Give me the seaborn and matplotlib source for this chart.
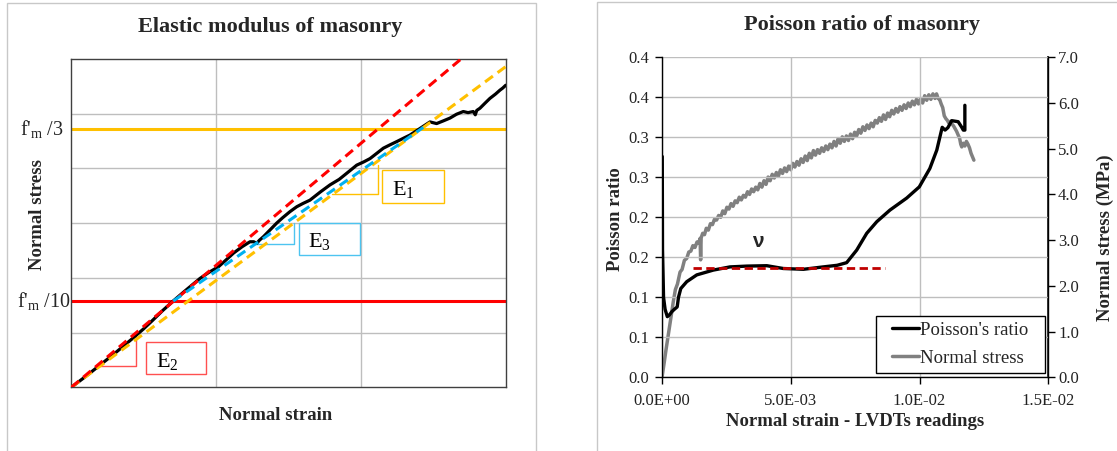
import numpy as np
import pandas as pd
import matplotlib
matplotlib.use("Agg")
import matplotlib.pyplot as plt
from matplotlib.patches import Rectangle
from matplotlib.legend_handler import HandlerLine2D
import seaborn as sns

sns.set_theme(style="white")
plt.rcParams['font.family'] = ['Liberation Serif', 'DejaVu Serif']
plt.rcParams['mathtext.fontset'] = 'custom'
plt.rcParams['mathtext.rm'] = 'Liberation Serif'
plt.rcParams['mathtext.it'] = 'Liberation Serif:italic'
plt.rcParams['mathtext.bf'] = 'Liberation Serif:bold'

# ---------------- Left chart data (relative units) ----------------
curve_strain = [0, 0.10, 0.20, 0.30, 0.429, 0.50, 0.56, 0.63, 0.704, 0.78, 0.889, 0.95, 1.015,
                1.07, 1.119, 1.18, 1.234, 1.26, 1.28, 1.30, 1.326, 1.372, 1.418, 1.46, 1.51,
                1.557, 1.60, 1.648, 1.72, 1.787, 1.85, 1.92, 1.971, 2.02, 2.063, 2.155, 2.20,
                2.247, 2.30, 2.339, 2.408, 2.477, 2.523, 2.57, 2.615, 2.66, 2.707, 2.74, 2.776,
                2.79, 2.80, 2.822, 2.86, 2.891, 2.93, 2.96, 2.98, 3.0]
curve_stress = [0, 0.20, 0.41, 0.62, 0.906, 1.07, 1.22, 1.40, 1.577, 1.75, 1.99, 2.10, 2.20,
                2.33, 2.45, 2.57, 2.66, 2.66, 2.63, 2.69, 2.75, 2.875, 3.0, 3.10, 3.21,
                3.30, 3.36, 3.42, 3.57, 3.70, 3.80, 3.95, 4.06, 4.12, 4.18, 4.37, 4.43,
                4.49, 4.56, 4.61, 4.73, 4.85, 4.82, 4.87, 4.92, 4.99, 5.04, 5.02, 5.04,
                4.98, 5.06, 5.10, 5.20, 5.28, 5.36, 5.43, 5.47, 5.52]

fm3_level = 4.726
fm10_level = 1.577

e1_line_x = [0, 3.0]
e1_line_y = [0, 5.86]
e2_line_x = [0, 2.75]
e2_line_y = [0, 6.13]
e3_line_x = [0.704, 2.431]
e3_line_y = [1.577, 4.75]

e1_tri_x = [1.798, 2.120, 2.120]
e1_tri_y = [3.533, 3.533, 4.063]
e2_tri_x = [0.198, 0.447, 0.447]
e2_tri_y = [0.395, 0.395, 0.987]
e3_tri_x = [1.269, 1.538, 1.538]
e3_tri_y = [2.62, 2.62, 3.008]

e_labels = ["E$_{1}$", "E$_{2}$", "E$_{3}$"]
e_box = {  # x0, y0, x1, y1
    "E1": [2.148, 3.362, 2.576, 3.966],
    "E2": [0.514, 0.237, 0.928, 0.833],
    "E3": [1.570, 2.418, 1.996, 3.003],
}
fm_labels = ["f'$_{\\mathrm{m}}$ /3", "f'$_{\\mathrm{m}}$ /10"]

# ---------------- Right chart data ----------------
nu_strain = [0.00001, 0.00002, 0.00006, 0.00012, 0.000206, 0.00029, 0.00038, 0.00048, 0.00059,
             0.00064, 0.00073, 0.00096, 0.00135, 0.00199, 0.00264, 0.00329, 0.00407, 0.00471,
             0.00549, 0.00626, 0.00680, 0.00717, 0.00756, 0.00795, 0.00834, 0.00885, 0.00950,
             0.00999, 0.01040, 0.01067, 0.01088, 0.01099, 0.01110, 0.01125, 0.01150, 0.01163,
             0.01170, 0.01176, 0.01176]
nu_ratio = [0.276, 0.160, 0.100, 0.085, 0.0758, 0.078, 0.082, 0.085, 0.088,
            0.100, 0.111, 0.1195, 0.128, 0.134, 0.138, 0.139, 0.1395, 0.136,
            0.135, 0.138, 0.140, 0.1433, 0.159, 0.180, 0.1945, 0.209, 0.224,
            0.238, 0.261, 0.284, 0.3125, 0.309, 0.312, 0.3208, 0.3195, 0.313,
            0.309, 0.309, 0.340]

nu_avg_x = [0.00122, 0.00866]
nu_avg_y = [0.137, 0.137]

stress_strain = [0.00000, 0.00008, 0.00015, 0.00021, 0.00028, 0.00035, 0.00044, 0.00052, 0.00060,
    0.00070, 0.00078, 0.00087, 0.00096, 0.00104, 0.00112, 0.00120, 0.00128, 0.00136, 0.00143,
    0.00148, 0.00150, 0.00152, 0.00158, 0.00165, 0.00172, 0.00180, 0.00188, 0.00196, 0.00204,
    0.00212, 0.00220, 0.00228, 0.00236, 0.00244, 0.00252, 0.00260, 0.00268, 0.00276, 0.00284,
    0.00292, 0.00300, 0.00308, 0.00316, 0.00324, 0.00332, 0.00340, 0.00348, 0.00356, 0.00364,
    0.00372, 0.00380, 0.00388, 0.00396, 0.00404, 0.00412, 0.00420, 0.00428, 0.00436, 0.00444,
    0.00452, 0.00460, 0.00468, 0.00476, 0.00484, 0.00492, 0.00500, 0.00508, 0.00516, 0.00524,
    0.00532, 0.00540, 0.00548, 0.00556, 0.00564, 0.00572, 0.00580, 0.00588, 0.00596, 0.00604,
    0.00612, 0.00620, 0.00628, 0.00636, 0.00644, 0.00652, 0.00660, 0.00668, 0.00676, 0.00684,
    0.00692, 0.00700, 0.00708, 0.00716, 0.00724, 0.00732, 0.00740, 0.00748, 0.00756, 0.00764,
    0.00772, 0.00780, 0.00788, 0.00796, 0.00804, 0.00812, 0.00820, 0.00828, 0.00836, 0.00844,
    0.00852, 0.00860, 0.00868, 0.00876, 0.00884, 0.00892, 0.00900, 0.00908, 0.00916, 0.00924,
    0.00932, 0.00940, 0.00948, 0.00956, 0.00964, 0.00972, 0.00980, 0.00988, 0.00996, 0.01004,
    0.01012, 0.01020, 0.01028, 0.01036, 0.01044, 0.01052, 0.01060, 0.01066, 0.01072, 0.01078,
    0.01084, 0.01090, 0.01096, 0.01102, 0.01108, 0.01114, 0.01120, 0.01126, 0.01132, 0.01138,
    0.01144, 0.01150, 0.01156, 0.01160, 0.01164, 0.01170, 0.01176, 0.01182, 0.01188, 0.01194,
    0.01200, 0.01206, 0.01211]
stress_mpa = [0.00, 0.30, 0.58, 0.80, 1.05, 1.32, 1.66, 1.92, 2.04,
    2.30, 2.36, 2.56, 2.60, 2.74, 2.76, 2.88, 2.84, 2.96, 2.94,
    3.04, 2.57, 3.05, 3.15, 3.12, 3.26, 3.22, 3.36, 3.34, 3.46,
    3.44, 3.54, 3.50, 3.64, 3.58, 3.72, 3.68, 3.80, 3.74, 3.86,
    3.82, 3.94, 3.88, 3.98, 3.94, 4.06, 4.00, 4.12, 4.06, 4.16,
    4.10, 4.24, 4.16, 4.30, 4.22, 4.38, 4.30, 4.44, 4.36, 4.48,
    4.40, 4.54, 4.46, 4.58, 4.50, 4.62, 4.54, 4.68, 4.60, 4.72,
    4.64, 4.78, 4.70, 4.84, 4.74, 4.90, 4.80, 4.96, 4.86, 4.98,
    4.90, 5.02, 4.94, 5.06, 4.98, 5.10, 5.02, 5.16, 5.06, 5.22,
    5.12, 5.26, 5.16, 5.28, 5.18, 5.32, 5.22, 5.36, 5.28, 5.42,
    5.34, 5.48, 5.40, 5.52, 5.44, 5.56, 5.48, 5.62, 5.56, 5.68,
    5.60, 5.74, 5.64, 5.78, 5.70, 5.84, 5.76, 5.88, 5.80, 5.92,
    5.84, 5.96, 5.88, 6.00, 5.92, 6.04, 5.96, 6.08, 5.98, 6.10,
    6.00, 6.16, 6.06, 6.18, 6.08, 6.20, 6.10, 6.20, 6.10, 6.08,
    5.98, 5.90, 5.72, 5.66, 5.62, 5.56, 5.60, 5.54, 5.50, 5.44,
    5.38, 5.30, 5.22, 5.10, 5.04, 5.12, 5.06, 5.16, 5.10, 5.02,
    4.90, 4.82, 4.75]

x_ticks = [0.0, 0.005, 0.010, 0.015]
x_tick_labels = ["0.0E+00", "5.0E-03", "1.0E-02", "1.5E-02"]
nu_ticks = [0.0, 0.05, 0.10, 0.15, 0.20, 0.25, 0.30, 0.35, 0.40]
nu_tick_labels = ["0.0", "0.1", "0.1", "0.2", "0.2", "0.3", "0.3", "0.4", "0.4"]
stress_ticks = [0, 1, 2, 3, 4, 5, 6, 7]
stress_tick_labels = ["0.0", "1.0", "2.0", "3.0", "4.0", "5.0", "6.0", "7.0"]
legend_labels = ["Poisson's ratio", "Normal stress"]

# ---------------- Figure ----------------
W, H = 1117, 451
fig = plt.figure(figsize=(W / 100, H / 100), dpi=100)

def fx(px):
    return px / W

def fy(py):
    return 1 - py / H

# panel borders
fig.patches.append(Rectangle((fx(7.3), fy(460)), fx(535.7 - 7.3), (460 - 3.3) / H,
                             transform=fig.transFigure, fill=False, edgecolor="#C8C8C8", lw=1.0))
fig.patches.append(Rectangle((fx(597.3), fy(460)), fx(540), (460 - 1.7) / H,
                             transform=fig.transFigure, fill=False, edgecolor="#C8C8C8", lw=1.0))

RED = "#FF0000"
ORANGE = "#FFC000"
BLUE = "#00B0F0"
GRID = "#BEBEBE"

# ---- Left axes ----
axL = fig.add_axes([fx(71.3), fy(387.3), fx(505.7 - 71.3), (387.3 - 59) / H])
axL.set_xlim(0, 3)
axL.set_ylim(0, 6)
axL.set_xticks([1, 2])
axL.set_yticks([1, 2, 3, 4, 5])
axL.set_xticklabels([])
axL.set_yticklabels([])
axL.tick_params(length=0)
axL.grid(True, color=GRID, lw=1.0)
for s in axL.spines.values():
    s.set_color("#404040")
    s.set_linewidth(1.0)

axL.axhline(fm3_level, color=ORANGE, lw=2.2, zorder=2)
axL.axhline(fm10_level, color=RED, lw=2.2, zorder=2)

tri_lw = 1.0
for tx, ty, c in [(e1_tri_x, e1_tri_y, ORANGE), (e2_tri_x, e2_tri_y, "#FF5050"), (e3_tri_x, e3_tri_y, "#4DC4F0")]:
    sns.lineplot(x=tx, y=ty, ax=axL, color=c, lw=tri_lw, sort=False, estimator=None, zorder=3)

sns.lineplot(x=curve_strain, y=curve_stress, ax=axL, color="black", lw=2.3, sort=False,
             estimator=None, zorder=4)
dash = (3.2, 1.9)
sns.lineplot(x=e1_line_x, y=e1_line_y, ax=axL, color=ORANGE, lw=2.2, zorder=5)
axL.lines[-1].set_dashes(dash)
sns.lineplot(x=e2_line_x, y=e2_line_y, ax=axL, color=RED, lw=2.2, zorder=5)
axL.lines[-1].set_dashes(dash)
sns.lineplot(x=e3_line_x, y=e3_line_y, ax=axL, color=BLUE, lw=2.2, zorder=5)
axL.lines[-1].set_dashes(dash)

for key, lab, c, tx, ty in [("E1", e_labels[0], ORANGE, 2.217, 3.514),
                            ("E2", e_labels[1], "#FF5050", 0.587, 0.376),
                            ("E3", e_labels[2], "#4DC4F0", 1.637, 2.558)]:
    x0, y0, x1, y1 = e_box[key]
    axL.add_patch(Rectangle((x0, y0), x1 - x0, y1 - y0, fill=False, edgecolor=c, lw=1.0, zorder=3))
    axL.text(tx, ty, lab, fontsize=16, color="black", ha="left", va="baseline", zorder=6)

fig.text(fx(63.5), fy(128.7), fm_labels[0], fontsize=14.5, ha="right", va="center")
fig.text(fx(70.5), fy(301), fm_labels[1], fontsize=14.5, ha="right", va="center")

fig.text(fx(270), fy(27), "Elastic modulus of masonry", fontsize=16, fontweight="bold",
         ha="center", va="center")
fig.text(fx(276), fy(416), "Normal strain", fontsize=13.5, fontweight="bold", ha="center", va="center")
fig.text(fx(37.3), fy(214), "Normal stress", fontsize=13.5, fontweight="bold", ha="center",
         va="center", rotation=90)

# ---- Right axes ----
axR = fig.add_axes([fx(662), fy(377.3), fx(1048.3 - 662), (377.3 - 57.3) / H])
axR.set_xlim(0, 0.015)
axR.set_ylim(0, 0.4)
axR.set_xticks(x_ticks)
axR.set_xticklabels(x_tick_labels)
axR.set_yticks(nu_ticks)
axR.set_yticklabels(nu_tick_labels)
axR.grid(True, color=GRID, lw=1.0)
axR.spines["top"].set_visible(False)
for s in ["left", "bottom", "right"]:
    axR.spines[s].set_color("black")
    axR.spines[s].set_linewidth(1.0)
axR.tick_params(axis="both", direction="out", length=5, width=1.0, color="black",
                labelsize=12, colors="#222222")
axR.tick_params(axis="y", pad=4, left=True)
axR.tick_params(axis="x", pad=6, bottom=True)

ax2 = axR.twinx()
ax2.set_ylim(0, 7)
ax2.set_yticks(stress_ticks)
ax2.set_yticklabels(stress_tick_labels)
ax2.tick_params(axis="y", direction="out", length=5, width=1.0, color="black", labelsize=12,
                pad=2, right=True, labelcolor="#222222")
for s in ax2.spines.values():
    s.set_visible(False)
ax2.spines["right"].set_visible(True)
ax2.spines["right"].set_color("black")
ax2.grid(False)

sns.lineplot(x=stress_strain, y=stress_mpa, ax=ax2, color="#808080", lw=2.5, sort=False,
             estimator=None, zorder=3)
ax2.set_ylabel("")
sns.lineplot(x=nu_strain, y=nu_ratio, ax=axR, color="black", lw=2.4, sort=False,
             estimator=None, zorder=4)
sns.lineplot(x=nu_avg_x, y=nu_avg_y, ax=axR, color="#C00000", lw=2.0, zorder=5)
axR.lines[-1].set_dashes((3.0, 1.6))
axR.set_xlabel("")
axR.set_ylabel("")
axR.set_zorder(ax2.get_zorder() + 1)
axR.patch.set_visible(False)

axR.text(0.00374, 0.1695, "ν", fontsize=15, fontweight="bold", family="Liberation Sans",
         ha="center", va="center")

h1 = axR.lines[0]
h2 = ax2.lines[0]
# legend frame
axR.add_patch(Rectangle((fx(875.7), fy(372.7)), fx(1045 - 875.7), (372.7 - 316) / H,
                        transform=fig.transFigure, facecolor="white", edgecolor="black",
                        lw=1.0, zorder=8, clip_on=False))
fs_leg = 13.5
fs_px = fs_leg * 100 / 72
hl = HandlerLine2D(xpad=0.57)
leg = axR.legend([h1, h2], legend_labels, loc="upper left",
                 bbox_to_anchor=(fx(875.7), fy(316)), bbox_transform=fig.transFigure,
                 fontsize=fs_leg, frameon=False, handlelength=2.03, handletextpad=0.05,
                 labelspacing=0.58, borderpad=0.3, borderaxespad=0,
                 handler_map={h1: hl, h2: hl})
leg.set_zorder(9)

fig.text(fx(862), fy(25), "Poisson ratio of masonry", fontsize=16, fontweight="bold",
         ha="center", va="center")
fig.text(fx(855), fy(421.7), "Normal strain - LVDTs readings", fontsize=13.5, fontweight="bold",
         ha="center", va="center")
fig.text(fx(615), fy(219), "Poisson ratio", fontsize=13.5, fontweight="bold", ha="center",
         va="center", rotation=90)
fig.text(fx(1105), fy(237.5), "Normal stress (MPa)", fontsize=13.5, fontweight="bold", ha="center",
         va="center", rotation=90)

fig.savefig("out.png", dpi=100)
